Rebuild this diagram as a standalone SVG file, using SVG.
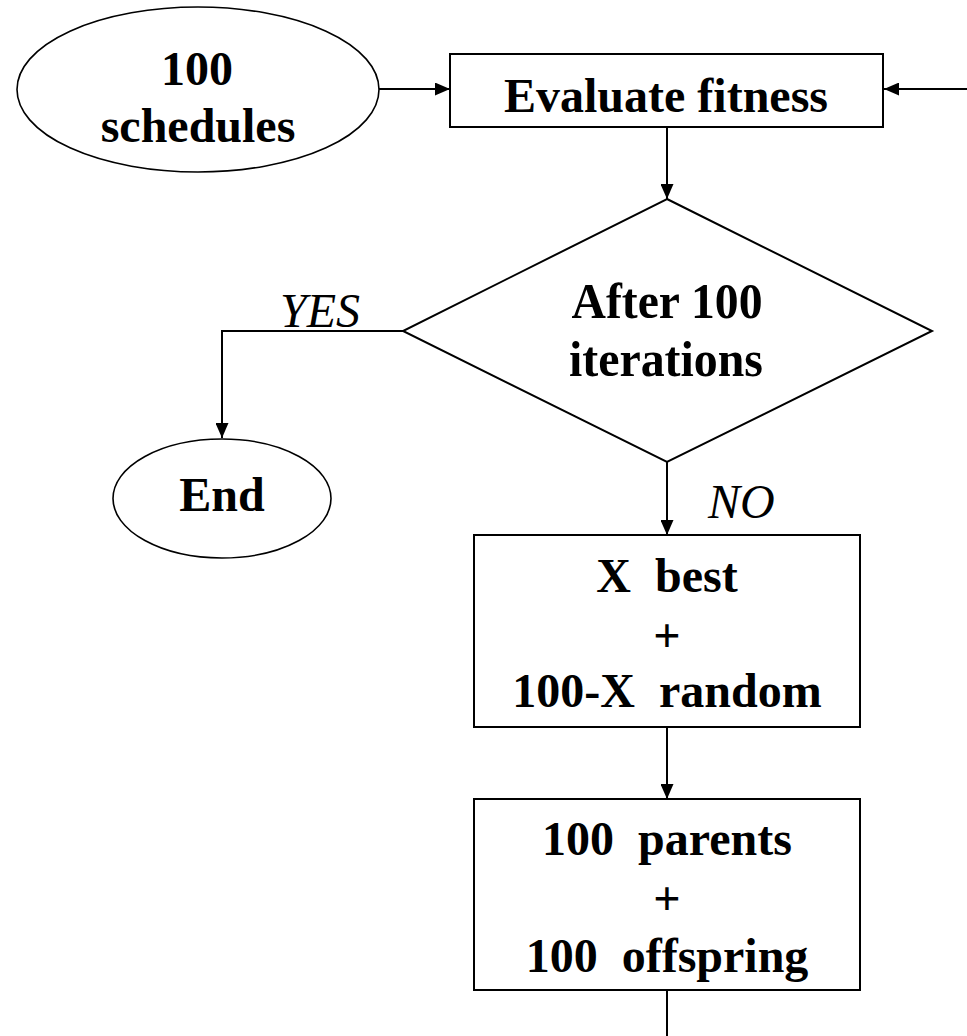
<svg xmlns="http://www.w3.org/2000/svg" width="967" height="1036" viewBox="0 0 967 1036">
<style>
.shape{fill:#fff;stroke:#000;stroke-width:2}
.ell{fill:#fff;stroke:#000;stroke-width:1.6}
.t{font-family:"Liberation Serif","Times New Roman",serif;font-weight:bold;font-size:48px;fill:#000;text-anchor:middle}
.td{font-family:"Liberation Serif","Times New Roman",serif;font-weight:bold;font-size:51px;fill:#000;text-anchor:middle}
.lbl{font-family:"Liberation Serif","Times New Roman",serif;font-style:italic;font-size:48px;fill:#000}
.conn{fill:none;stroke:#000;stroke-width:2}
</style>
<defs>
<marker id="arr" markerUnits="userSpaceOnUse" markerWidth="15" markerHeight="13" refX="15" refY="6.5" orient="auto">
<path d="M0,0 L15,6.5 L0,13 z" fill="#000"/>
</marker>
</defs>
<rect width="967" height="1036" fill="#fff"/>
<g id="connectors">
<line class="conn" x1="379" y1="89" x2="450" y2="89" marker-end="url(#arr)"/>
<line class="conn" x1="967" y1="89" x2="884" y2="89" marker-end="url(#arr)"/>
<line class="conn" x1="667" y1="127" x2="667" y2="199" marker-end="url(#arr)"/>
<polyline class="conn" points="403,331 222,331 222,438" marker-end="url(#arr)"/>
<line class="conn" x1="667" y1="462" x2="667" y2="535" marker-end="url(#arr)"/>
<line class="conn" x1="667" y1="727" x2="667" y2="799" marker-end="url(#arr)"/>
<line class="conn" x1="667" y1="990" x2="667" y2="1036"/>
<text class="lbl" x="280" y="327">YES</text>
<text class="lbl" x="708" y="518">NO</text>
</g>
<g id="start">
<ellipse class="ell" cx="198" cy="89.5" rx="181" ry="82.5"/>
<text class="t" x="197" y="85">100</text>
<text class="t" x="198" y="142">schedules</text>
</g>
<g id="evaluate">
<rect class="shape" x="450" y="54" width="433" height="73"/>
<text class="t" x="666" y="112">Evaluate fitness</text>
</g>
<g id="decision">
<polygon class="shape" points="667,199 932,331 667,462 403,331"/>
<text class="td" x="667" y="318" textLength="191" lengthAdjust="spacingAndGlyphs">After 100</text>
<text class="td" x="666" y="376" textLength="194" lengthAdjust="spacingAndGlyphs">iterations</text>
</g>
<g id="end">
<ellipse class="ell" cx="222" cy="498.5" rx="109" ry="59.5"/>
<text class="t" x="222" y="511">End</text>
</g>
<g id="select">
<rect class="shape" x="474" y="535" width="386" height="192"/>
<text class="t" x="667" y="592" xml:space="preserve">X  best</text>
<text class="t" x="667" y="652">+</text>
<text class="t" x="667" y="707" xml:space="preserve">100-X  random</text>
</g>
<g id="offspring">
<rect class="shape" x="474" y="799" width="386" height="191"/>
<text class="t" x="667" y="855" xml:space="preserve">100  parents</text>
<text class="t" x="667" y="915">+</text>
<text class="t" x="667" y="972" xml:space="preserve">100  offspring</text>
</g>
</svg>
